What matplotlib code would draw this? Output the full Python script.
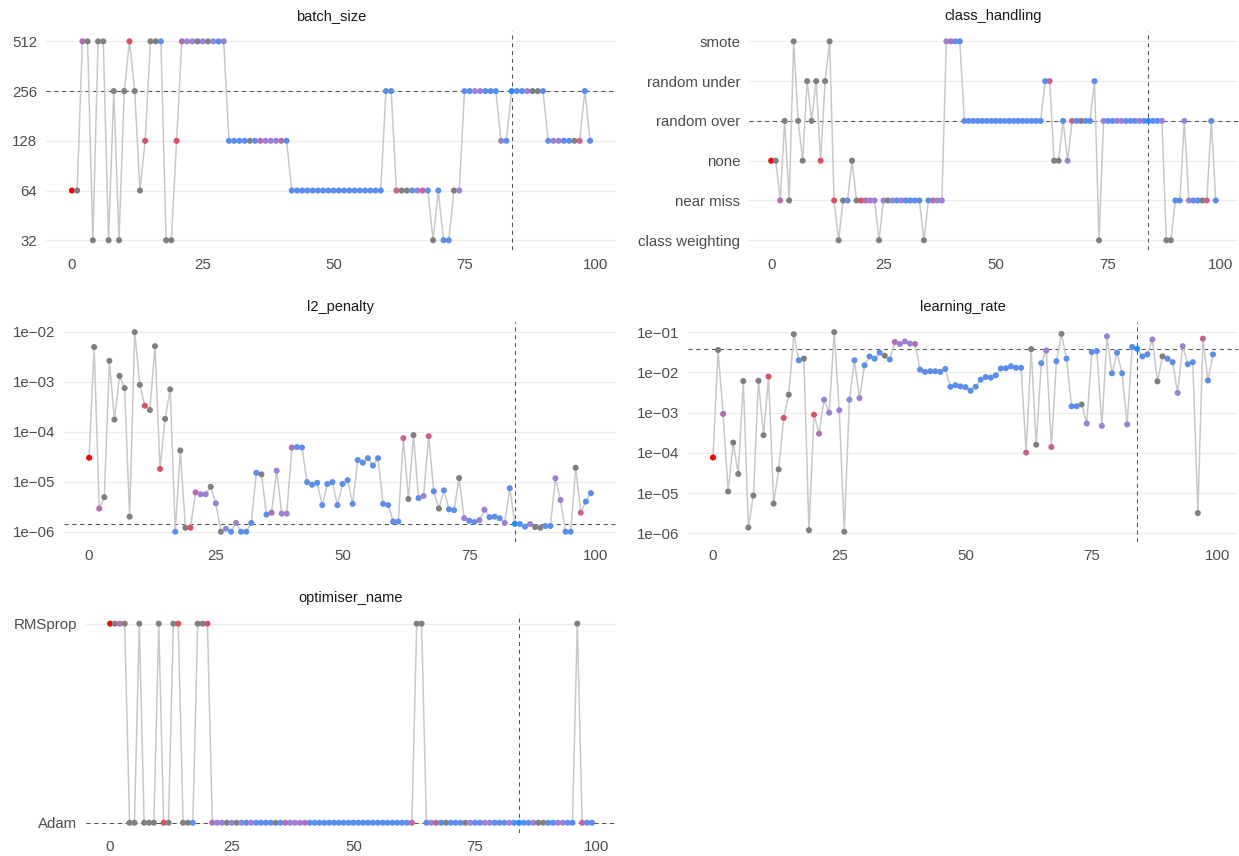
import matplotlib
matplotlib.use("Agg")
import matplotlib.pyplot as plt
from matplotlib.ticker import FixedLocator, NullLocator

# ---- data: one entry per trial (0..99) ----
trial = list(range(100))
best_trial = 84

batch_size = [
    64, 64, 512, 512, 32, 512, 512, 32, 256, 32,
    256, 512, 256, 64, 128, 512, 512, 512, 32, 32,
    128, 512, 512, 512, 512, 512, 512, 512, 512, 512,
    128, 128, 128, 128, 128, 128, 128, 128, 128, 128,
    128, 128, 64, 64, 64, 64, 64, 64, 64, 64,
    64, 64, 64, 64, 64, 64, 64, 64, 64, 64,
    256, 256, 64, 64, 64, 64, 64, 64, 64, 32,
    64, 32, 32, 64, 64, 256, 256, 256, 256, 256,
    256, 256, 128, 128, 256, 256, 256, 256, 256, 256,
    256, 128, 128, 128, 128, 128, 128, 128, 256, 128,
]

class_handling = [
    "none", "none", "near miss", "random over", "near miss",
    "smote", "random over", "none", "random under", "random over",
    "random under", "none", "random under", "smote", "near miss",
    "class weighting", "near miss", "near miss", "none", "near miss",
    "near miss", "near miss", "near miss", "near miss", "class weighting",
    "near miss", "near miss", "near miss", "near miss", "near miss",
    "near miss", "near miss", "near miss", "near miss", "class weighting",
    "near miss", "near miss", "near miss", "near miss", "smote",
    "smote", "smote", "smote", "random over", "random over",
    "random over", "random over", "random over", "random over", "random over",
    "random over", "random over", "random over", "random over", "random over",
    "random over", "random over", "random over", "random over", "random over",
    "random over", "random under", "random under", "none", "none",
    "random over", "none", "random over", "random over", "random over",
    "random over", "random over", "random under", "class weighting", "random over",
    "random over", "random over", "random over", "random over", "random over",
    "random over", "random over", "random over", "random over", "random over",
    "random over", "random over", "random over", "class weighting", "class weighting",
    "near miss", "near miss", "random over", "near miss", "near miss",
    "near miss", "near miss", "near miss", "random over", "near miss",
]

l2_penalty = [
    3.0e-5, 4.9e-3, 2.9e-6, 4.9e-6, 2.6e-3, 1.74e-4, 1.3e-3, 7.4e-4, 2.0e-6, 9.7e-3,
    8.6e-4, 3.3e-4, 2.7e-4, 5.1e-3, 1.8e-5, 1.8e-4, 7.0e-4, 1.0e-6, 4.2e-5, 1.2e-6,
    1.2e-6, 6.1e-6, 5.6e-6, 5.6e-6, 7.9e-6, 3.7e-6, 1.0e-6, 1.15e-6, 1.0e-6, 1.5e-6,
    1.0e-6, 1.0e-6, 1.5e-6, 1.5e-5, 1.4e-5, 2.2e-6, 2.4e-6, 1.66e-5, 2.3e-6, 2.3e-6,
    4.8e-5, 4.9e-5, 4.8e-5, 9.8e-6, 8.7e-6, 9.5e-6, 3.4e-6, 9.0e-6, 9.8e-6, 3.4e-6,
    9.0e-6, 1.07e-5, 3.6e-6, 2.7e-5, 2.4e-5, 2.95e-5, 2.1e-5, 2.95e-5, 3.6e-6, 3.4e-6,
    1.6e-6, 1.6e-6, 7.4e-5, 4.5e-6, 8.5e-5, 4.7e-6, 5.2e-6, 8.1e-5, 6.4e-6, 2.9e-6,
    6.7e-6, 2.8e-6, 2.7e-6, 1.18e-5, 1.86e-6, 1.66e-6, 1.56e-6, 1.7e-6, 2.75e-6, 1.95e-6,
    2.0e-6, 1.86e-6, 1.5e-6, 7.4e-6, 1.44e-6, 1.42e-6, 1.26e-6, 1.42e-6, 1.24e-6, 1.2e-6,
    1.3e-6, 1.3e-6, 1.17e-5, 4.3e-6, 1.0e-6, 1.0e-6, 1.9e-5, 2.4e-6, 4.0e-6, 5.9e-6,
]

learning_rate = [
    7.7e-5, 3.6e-2, 9.3e-4, 1.1e-5, 1.8e-4, 3.0e-5, 6.1e-3, 1.4e-6, 8.7e-6, 6.2e-3,
    2.75e-4, 7.9e-3, 5.5e-6, 3.9e-5, 7.4e-4, 2.8e-3, 8.9e-2, 2.0e-2, 2.2e-2, 1.2e-6,
    8.9e-4, 3.0e-4, 2.1e-3, 1.0e-3, 1.0e-1, 1.15e-3, 1.1e-6, 2.1e-3, 2.0e-2, 2.3e-3,
    1.5e-2, 2.5e-2, 2.2e-2, 3.1e-2, 2.6e-2, 2.1e-2, 5.7e-2, 5.1e-2, 5.9e-2, 5.2e-2,
    5.1e-2, 1.17e-2, 1.03e-2, 1.07e-2, 1.07e-2, 1.03e-2, 1.22e-2, 4.4e-3, 4.8e-3, 4.5e-3,
    4.3e-3, 3.5e-3, 4.4e-3, 6.6e-3, 7.7e-3, 7.4e-3, 8.5e-3, 1.25e-2, 1.27e-2, 1.42e-2,
    1.3e-2, 1.3e-2, 1.02e-4, 3.8e-2, 1.6e-4, 1.7e-2, 3.5e-2, 1.4e-4, 1.9e-2, 9.1e-2,
    2.2e-2, 1.44e-3, 1.45e-3, 1.6e-3, 5.4e-4, 3.2e-2, 3.4e-2, 4.7e-4, 7.9e-2, 9.5e-3,
    3.1e-2, 9.5e-3, 5.1e-4, 4.3e-2, 3.85e-2, 2.5e-2, 2.8e-2, 6.6e-2, 6.0e-3, 2.5e-2,
    2.2e-2, 1.8e-2, 3.1e-3, 4.5e-2, 1.6e-2, 1.8e-2, 3.2e-6, 6.9e-2, 6.3e-3, 2.8e-2,
]

optimiser_name = [
    "RMSprop", "RMSprop", "RMSprop", "RMSprop", "Adam", "Adam", "RMSprop", "Adam", "Adam", "Adam",
    "RMSprop", "Adam", "Adam", "RMSprop", "RMSprop", "Adam", "Adam", "Adam", "RMSprop", "RMSprop",
    "RMSprop", "Adam", "Adam", "Adam", "Adam", "Adam", "Adam", "Adam", "Adam", "Adam",
    "Adam", "Adam", "Adam", "Adam", "Adam", "Adam", "Adam", "Adam", "Adam", "Adam",
    "Adam", "Adam", "Adam", "Adam", "Adam", "Adam", "Adam", "Adam", "Adam", "Adam",
    "Adam", "Adam", "Adam", "Adam", "Adam", "Adam", "Adam", "Adam", "Adam", "Adam",
    "Adam", "Adam", "Adam", "RMSprop", "RMSprop", "Adam", "Adam", "Adam", "Adam", "Adam",
    "Adam", "Adam", "Adam", "Adam", "Adam", "Adam", "Adam", "Adam", "Adam", "Adam",
    "Adam", "Adam", "Adam", "Adam", "Adam", "Adam", "Adam", "Adam", "Adam", "Adam",
    "Adam", "Adam", "Adam", "Adam", "Adam", "Adam", "RMSprop", "Adam", "Adam", "Adam",
]

# point colour group of each trial (roughly: score from red=bad to blue=good, grey=pruned)
colour_group = [
    "first", "grey", "mauve", "grey", "grey", "grey", "grey", "grey", "grey", "grey",
    "grey", "rose", "grey", "grey", "rose", "grey", "grey", "blue", "grey", "grey",
    "rose", "mauve", "lilac", "lilac", "grey", "lilac", "grey", "peri", "blue", "lilac",
    "blue", "blue", "blue", "blue", "grey", "blue", "mauve", "lilac", "lilac", "lilac",
    "mauve", "blue", "blue", "blue", "blue", "blue", "blue", "blue", "blue", "blue",
    "blue", "blue", "blue", "blue", "blue", "blue", "blue", "blue", "blue", "blue",
    "blue", "blue", "pink", "grey", "grey", "blue", "lilac", "pink", "blue", "grey",
    "blue", "blue", "blue", "grey", "lilac", "blue", "blue", "lilac", "lilac", "blue",
    "blue", "blue", "lilac", "blue", "best", "blue", "blue", "lilac", "grey", "grey",
    "blue", "blue", "lilac", "lilac", "blue", "blue", "grey", "pink", "blue", "blue",
]

batch_ticks = [32, 64, 128, 256, 512]
class_levels = ["class weighting", "near miss", "none", "random over", "random under", "smote"]
optimiser_levels = ["Adam", "RMSprop"]
l2_ticks = [1e-6, 1e-5, 1e-4, 1e-3, 1e-2]
lr_ticks = [1e-6, 1e-5, 1e-4, 1e-3, 1e-2, 1e-1]
x_ticks = [0, 25, 50, 75, 100]

# ---- style ----
palette = {
    "first": "#FF0000", "grey": "#7F7F7F", "rose": "#DA5064", "pink": "#C8628E",
    "mauve": "#B26DB4", "lilac": "#9D80D6", "peri": "#868BE4", "blue": "#5B8DEF",
    "best": "#1E8FFF",
}
point_colours = [palette[g] for g in colour_group]

plt.rcParams["font.family"] = ["Liberation Sans", "DejaVu Sans"]
W, H = 1239, 856
fig = plt.figure(figsize=(W / 100, H / 100), dpi=100)


def sci_label(v):
    # 1e-04 style, with a real minus sign
    return f"{v:.0e}".replace("-", "\u2212")


def panel(box, title, y, ticks, ticklabels, yscale=None):
    left, right, top, bottom = box  # pixels
    ax = fig.add_axes([left / W, 1 - bottom / H, (right - left) / W, (bottom - top) / H])
    if yscale == "log2":
        ax.set_yscale("log", base=2)
    elif yscale == "log10":
        ax.set_yscale("log")

    ax.axhline(y[best_trial], color="#555555", lw=0.75, ls=(0, (4, 3.5)), zorder=1.5)
    ax.axvline(best_trial, color="#555555", lw=0.75, ls=(0, (4, 3.5)), zorder=1.5)
    ax.plot(trial, y, color="#C8C8C8", lw=1.1, zorder=2)
    ax.scatter(trial, y, c=point_colours, s=19, linewidths=0, zorder=3)

    ax.yaxis.set_major_locator(FixedLocator(ticks))
    ax.yaxis.set_minor_locator(NullLocator())
    ax.set_yticklabels(ticklabels)
    ax.xaxis.set_major_locator(FixedLocator(x_ticks))
    ax.xaxis.set_minor_locator(NullLocator())
    ax.set_xticklabels([str(t) for t in x_ticks])
    ax.set_xlim(-4.95, 103.95)

    ax.grid(axis="y", color="#EBEBEB", lw=0.85, zorder=0)
    ax.set_axisbelow(True)
    for s in ax.spines.values():
        s.set_visible(False)
    ax.tick_params(axis="both", length=0, labelsize=10.8, labelcolor="#4D4D4D")
    ax.tick_params(axis="y", pad=6.3)
    ax.tick_params(axis="x", pad=5.3)
    ax.annotate(title, xy=(0.5, 1), xycoords="axes fraction", xytext=(0, 11),
                textcoords="offset points", ha="center", va="center",
                fontsize=10.5, color="#1A1A1A")
    return ax


panel((46, 616, 31.4, 250.2), "batch_size", batch_size,
      batch_ticks, [str(b) for b in batch_ticks], yscale="log2")

class_y = [class_levels.index(c) + 1 for c in class_handling]
panel((749, 1238, 31.4, 250.2), "class_handling", class_y,
      list(range(1, len(class_levels) + 1)), class_levels)

panel((64, 616, 322.2, 541.7), "l2_penalty", l2_penalty,
      l2_ticks, [sci_label(v) for v in l2_ticks], yscale="log10")

panel((688, 1238, 322.2, 541.7), "learning_rate", learning_rate,
      lr_ticks, [sci_label(v) for v in lr_ticks], yscale="log10")

opt_y = [optimiser_levels.index(o) + 1 for o in optimiser_name]
panel((86, 616, 613.7, 832.7), "optimiser_name", opt_y,
      [1, 2], optimiser_levels)

fig.savefig("out.png", dpi=100)
